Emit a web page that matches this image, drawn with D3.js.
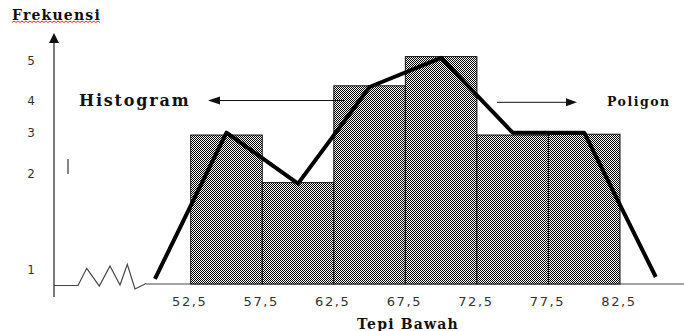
<!DOCTYPE html>
<html>
<head>
<meta charset="utf-8">
<script src="https://cdn.jsdelivr.net/npm/d3@7"></script>
<style>
  html, body { margin: 0; padding: 0; background: #fff; }
  svg { display: block; }
</style>
</head>
<body>
<div id="chart"></div>
<script>
// ---- data ----
const classEdges = [52.5, 57.5, 62.5, 67.5, 72.5, 77.5, 82.5];
const edgeLabels = ["52,5", "57,5", "62,5", "67,5", "72,5", "77,5", "82,5"];
const barFreq = [2.95, 1.91, 4.38, 5.11, 2.95, 2.97];
const polyMarks = [50, 55, 60, 65, 70, 75, 80, 85];
const polyFreq = [0.36, 3.01, 1.90, 4.35, 5.08, 3.01, 3.01, 0.5];
const yTicks = [1, 2, 3, 4, 5];
const yTickScaleDomain = [0, 1, 2, 3, 4, 5];

const W = 684, H = 331;
const svg = d3.select("#chart").append("svg").attr("width", W).attr("height", H);

// checker pattern for bars
const defs = svg.append("defs");
const pat = defs.append("pattern").attr("id", "checker")
  .attr("width", 2).attr("height", 2).attr("patternUnits", "userSpaceOnUse");
pat.append("rect").attr("width", 2).attr("height", 2).attr("fill", "#fff");
pat.append("rect").attr("x", 0).attr("y", 0).attr("width", 1).attr("height", 1).attr("fill", "#000");
pat.append("rect").attr("x", 1).attr("y", 1).attr("width", 1).attr("height", 1).attr("fill", "#000");

// scales
const x = d3.scaleLinear().domain([52.5, 82.5]).range([190.7, 620]);
// hand-drawn, non-uniform frequency axis (piecewise)
const y = d3.scaleLinear().domain(yTickScaleDomain).range([284, 270, 174, 133, 101, 61]);

const baseY = y(0);
const axisX = 54;

// baseline
svg.append("line").attr("x1", 146).attr("x2", W).attr("y1", baseY).attr("y2", baseY)
  .attr("stroke", "#444").attr("stroke-width", 1.2);
// axis break zigzag
svg.append("path")
  .attr("d", "M" + axisX + ",285.5 L78,285.5 L86.7,268.3 L99.3,286 L110,266 L120,285 L127.3,264.3 L135,289 L146,283.5")
  .attr("fill", "none").attr("stroke", "#444").attr("stroke-width", 1.2);

// bars
const bars = barFreq.map((f, i) => ({ x0: classEdges[i], x1: classEdges[i + 1], f }));
svg.append("g").selectAll("rect").data(bars).join("rect")
  .attr("x", d => x(d.x0))
  .attr("y", d => y(d.f))
  .attr("width", d => x(d.x1) - x(d.x0))
  .attr("height", d => baseY - y(d.f))
  .attr("fill", "url(#checker)")
  .attr("stroke", "#111").attr("stroke-width", 1);

// y axis with arrow
svg.append("line").attr("x1", axisX).attr("x2", axisX).attr("y1", 297).attr("y2", 41)
  .attr("stroke", "#333").attr("stroke-width", 1.3);
svg.append("path").attr("d", `M${axisX},33 L${axisX - 5},43 L${axisX + 5},43 Z`).attr("fill", "#111");

// y tick labels
svg.append("g").selectAll("text").data(yTicks).join("text")
  .attr("x", 31).attr("y", d => y(d)).attr("dy", "0.36em")
  .attr("text-anchor", "middle")
  .attr("font-family", "DejaVu Sans, Verdana, sans-serif").attr("font-size", 12)
  .attr("fill", "#333")
  .text(d => d);

// small mark
svg.append("line").attr("x1", 68).attr("x2", 68).attr("y1", 159).attr("y2", 174)
  .attr("stroke", "#333").attr("stroke-width", 1.2);

// x tick labels
svg.append("g").selectAll("text").data(classEdges).join("text")
  .attr("x", d => x(d) - 1).attr("y", 306)
  .attr("text-anchor", "middle")
  .attr("font-family", "DejaVu Sans, Verdana, sans-serif").attr("font-size", 13)
  .attr("letter-spacing", "1.6px")
  .attr("fill", "#333")
  .text((d, i) => edgeLabels[i]);

// polygon
const line = d3.line().x(d => x(d[0])).y(d => y(d[1]));
svg.append("path").datum(polyMarks.map((m, i) => [m, polyFreq[i]]))
  .attr("d", line)
  .attr("fill", "none").attr("stroke", "#000").attr("stroke-width", 4)
  .attr("stroke-linejoin", "round");

// titles
const serif = "DejaVu Serif, Bookman Old Style, serif";
svg.append("text").attr("x", 12).attr("y", 20)
  .attr("font-family", serif).attr("font-weight", "bold").attr("font-size", 14)
  .attr("letter-spacing", "1.2px").attr("fill", "#111").text("Frekuensi");
// red wavy underline
let wave = "M12,22.5";
for (let xx = 12; xx < 100; xx += 4) wave += ` L${xx + 2},21 L${xx + 4},22.5`;
svg.append("path").attr("d", wave).attr("fill", "none").attr("stroke", "#e03030").attr("stroke-width", 1);

svg.append("text").attr("x", 408).attr("y", 329)
  .attr("text-anchor", "middle")
  .attr("font-family", serif).attr("font-weight", "bold").attr("font-size", 14)
  .attr("letter-spacing", "1.2px").attr("fill", "#111").text("Tepi Bawah");

// annotations
svg.append("text").attr("x", 79).attr("y", 106)
  .attr("font-family", serif).attr("font-weight", "bold").attr("font-size", 16)
  .attr("letter-spacing", "1.8px").attr("fill", "#111").text("Histogram");
svg.append("line").attr("x1", 345).attr("x2", 215).attr("y1", 100.5).attr("y2", 100.5)
  .attr("stroke", "#111").attr("stroke-width", 1);
svg.append("path").attr("d", "M208,100.5 L220,96.5 L220,104.5 Z").attr("fill", "#111");

svg.append("text").attr("x", 607).attr("y", 106)
  .attr("font-family", serif).attr("font-weight", "bold").attr("font-size", 12.5)
  .attr("letter-spacing", "1.5px").attr("fill", "#111").text("Poligon");
svg.append("line").attr("x1", 497).attr("x2", 568).attr("y1", 102.3).attr("y2", 102.3)
  .attr("stroke", "#111").attr("stroke-width", 1);
svg.append("path").attr("d", "M577,102.3 L566,98.3 L566,106.3 Z").attr("fill", "#111");
</script>
</body>
</html>
